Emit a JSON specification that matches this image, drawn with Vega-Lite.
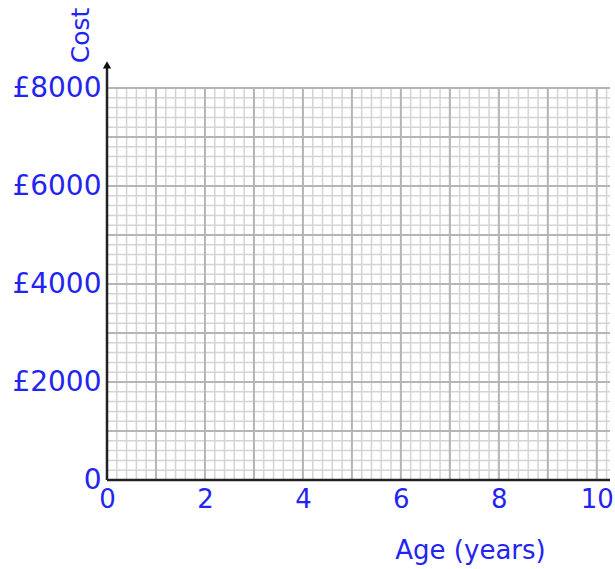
{
  "$schema": "https://vega.github.io/schema/vega-lite/v6.json",
  "width": 503,
  "height": 392,
  "autosize": "none",
  "padding": {"left": 107, "top": 88, "right": 5, "bottom": 89},
  "background": "white",
  "config": {"view": {"stroke": null}, "font": "DejaVu Sans"},
  "datasets": {
    "vx": [{"v":0},{"v":0.2},{"v":0.4},{"v":0.6},{"v":0.8},{"v":1},{"v":1.2},{"v":1.4},{"v":1.6},{"v":1.8},{"v":2},{"v":2.2},{"v":2.4},{"v":2.6},{"v":2.8},{"v":3},{"v":3.2},{"v":3.4},{"v":3.6},{"v":3.8},{"v":4},{"v":4.2},{"v":4.4},{"v":4.6},{"v":4.8},{"v":5},{"v":5.2},{"v":5.4},{"v":5.6},{"v":5.8},{"v":6},{"v":6.2},{"v":6.4},{"v":6.6},{"v":6.8},{"v":7},{"v":7.2},{"v":7.4},{"v":7.6},{"v":7.8},{"v":8},{"v":8.2},{"v":8.4},{"v":8.6},{"v":8.8},{"v":9},{"v":9.2},{"v":9.4},{"v":9.6},{"v":9.8},{"v":10},{"v":10.2}],
    "hy": [{"v":0},{"v":200},{"v":400},{"v":600},{"v":800},{"v":1000},{"v":1200},{"v":1400},{"v":1600},{"v":1800},{"v":2000},{"v":2200},{"v":2400},{"v":2600},{"v":2800},{"v":3000},{"v":3200},{"v":3400},{"v":3600},{"v":3800},{"v":4000},{"v":4200},{"v":4400},{"v":4600},{"v":4800},{"v":5000},{"v":5200},{"v":5400},{"v":5600},{"v":5800},{"v":6000},{"v":6200},{"v":6400},{"v":6600},{"v":6800},{"v":7000},{"v":7200},{"v":7400},{"v":7600},{"v":7800},{"v":8000}]
  },
  "layer": [
    {
      "data": {"name": "vx"},
      "mark": {"type": "rule", "color": "#d4d4d4", "strokeWidth": 1.5},
      "encoding": {
        "x": {"field": "v", "type": "quantitative",
          "scale": {"domain": [0, 10.27], "nice": false, "zero": false},
          "axis": {"values": [0, 2, 4, 6, 8, 10], "grid": false, "ticks": false, "domain": false,
            "labelColor": "#2424f0", "labelFontSize": 26, "labelPadding": 6, "labelFlush": false,
            "title": "Age (years)", "titleColor": "#2424f0", "titleFontSize": 26, "titleFontWeight": "normal",
            "titleX": 363, "titleY": 70, "titleBaseline": "middle", "titleAlign": "center"}},
        "y": {"datum": 0, "type": "quantitative",
          "scale": {"domain": [0, 8000], "nice": false},
          "axis": {"values": [0, 2000, 4000, 6000, 8000], "grid": false, "ticks": false, "domain": false,
            "labelExpr": "datum.value == 0 ? '0' : '£' + datum.value",
            "labelColor": "#2424f0", "labelFontSize": 28, "labelPadding": 6, "labelFlush": false,
            "title": "Cost", "titleColor": "#2424f0", "titleFontSize": 25, "titleFontWeight": "normal",
            "titleX": -27, "titleY": -53, "titleAngle": 270, "titleAlign": "center", "titleBaseline": "middle"}},
        "y2": {"datum": 8000}
      }
    },
    {
      "data": {"name": "hy"},
      "mark": {"type": "rule", "color": "#d4d4d4", "strokeWidth": 1.5},
      "encoding": {
        "y": {"field": "v", "type": "quantitative"},
        "x": {"datum": 0, "type": "quantitative"},
        "x2": {"datum": 10.27}
      }
    },
    {
      "data": {"name": "vx"},
      "transform": [{"filter": "datum.v % 1 == 0"}],
      "mark": {"type": "rule", "color": "#b5b5b5", "strokeWidth": 2},
      "encoding": {
        "x": {"field": "v", "type": "quantitative"},
        "y": {"datum": 0, "type": "quantitative"},
        "y2": {"datum": 8000}
      }
    },
    {
      "data": {"name": "hy"},
      "transform": [{"filter": "datum.v % 1000 == 0"}],
      "mark": {"type": "rule", "color": "#b5b5b5", "strokeWidth": 2},
      "encoding": {
        "y": {"field": "v", "type": "quantitative"},
        "x": {"datum": 0, "type": "quantitative"},
        "x2": {"datum": 10.27}
      }
    },
    {
      "data": {"values": [{}]},
      "mark": {"type": "rule", "color": "#222222", "strokeWidth": 2.5},
      "encoding": {
        "x": {"datum": 0, "type": "quantitative"},
        "y": {"datum": 0, "type": "quantitative"},
        "y2": {"datum": 8450}
      }
    },
    {
      "data": {"values": [{}]},
      "mark": {"type": "rule", "color": "#222222", "strokeWidth": 2.5},
      "encoding": {
        "y": {"datum": 0, "type": "quantitative"},
        "x": {"datum": 0, "type": "quantitative"},
        "x2": {"datum": 10.27}
      }
    },
    {
      "data": {"values": [{}]},
      "mark": {"type": "point", "shape": "triangle-up", "filled": true, "color": "#111111", "size": 70, "opacity": 1},
      "encoding": {
        "x": {"datum": 0, "type": "quantitative"},
        "y": {"datum": 8470, "type": "quantitative"}
      }
    }
  ]
}
